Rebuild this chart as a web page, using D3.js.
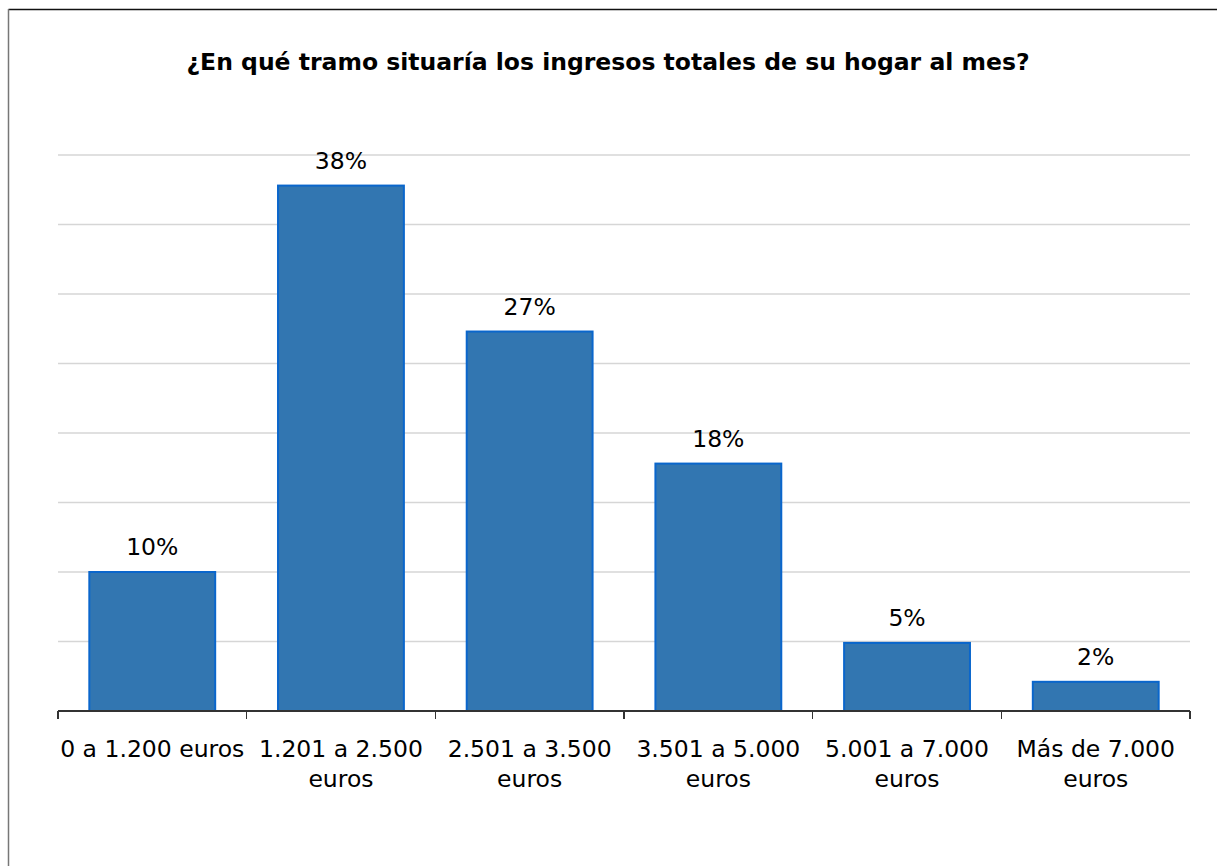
<!DOCTYPE html>
<html lang="es">
	<head>
		<meta charset="utf-8">
		<title>Ingresos del hogar</title>
		<script type="text/javascript" src="https://cdn.jsdelivr.net/npm/d3@7"></script>
		<style type="text/css">
			body { margin: 0; background: #fff; }
			text { font-family: "DejaVu Sans", Verdana, sans-serif; fill: #000; }
			.grid line { stroke: #d6d6d6; stroke-width: 1.3; }
			.axis path, .axis line { stroke: #333; stroke-width: 1.2; shape-rendering: crispEdges; }
		</style>
	</head>
	<body>
		<script type="text/javascript">

			//SVG width and height
			var w = 1217;
			var h = 866;

			// Data
			var categories = ["0 a 1.200 euros", "1.201 a 2.500 euros", "2.501 a 3.500 euros",
			                  "3.501 a 5.000 euros", "5.001 a 7.000 euros", "Más de 7.000 euros"];
			var categoryLines = [
				["0 a 1.200 euros"],
				["1.201 a 2.500", "euros"],
				["2.501 a 3.500", "euros"],
				["3.501 a 5.000", "euros"],
				["5.001 a 7.000", "euros"],
				["Más de 7.000", "euros"]
			];
			var values = [10, 37.8, 27.3, 17.8, 4.9, 2.1];
			var gridTicks = [5, 10, 15, 20, 25, 30, 35, 40];
			var title = "¿En qué tramo situaría los ingresos totales de su hogar al mes?";

			var plotLeft = 58, plotRight = 1190, plotTop = 155, plotBottom = 711;
			var fontSize = "23.5px";

			var xScale = d3.scaleBand()
							.domain(categories)
							.range([plotLeft, plotRight])
							.paddingInner(0.333)
							.paddingOuter(0.166);

			var yScale = d3.scaleLinear()
							.domain([0, 40])
							.range([plotBottom, plotTop]);

			var svg = d3.select("body")
						.append("svg")
						.attr("width", w)
						.attr("height", h);

			// outer frame (only top and left edges visible)
			svg.append("line")
				.attr("x1", 8.5).attr("y1", 9.5).attr("x2", w).attr("y2", 9.5)
				.attr("stroke", "#111").attr("stroke-width", 1.5);
			svg.append("line")
				.attr("x1", 8.5).attr("y1", 9).attr("x2", 8.5).attr("y2", h)
				.attr("stroke", "#777").attr("stroke-width", 1.5);

			// title
			svg.append("text")
				.attr("x", 608)
				.attr("y", 70)
				.attr("text-anchor", "middle")
				.style("font-weight", "bold")
				.style("font-size", fontSize)
				.text(title);

			// gridlines
			svg.append("g")
				.attr("class", "grid")
				.selectAll("line")
				.data(gridTicks)
				.enter()
				.append("line")
				.attr("x1", plotLeft)
				.attr("x2", plotRight)
				.attr("y1", function(d) { return yScale(d); })
				.attr("y2", function(d) { return yScale(d); });

			// bars
			svg.append("g")
				.selectAll("rect")
				.data(values)
				.enter()
				.append("rect")
				.attr("x", function(d, i) { return xScale(categories[i]); })
				.attr("y", function(d) { return yScale(d); })
				.attr("width", xScale.bandwidth())
				.attr("height", function(d) { return plotBottom - yScale(d); })
				.attr("fill", "#3276B1")
				.attr("stroke", "#0A66CC")
				.attr("stroke-width", 2);

			// value labels
			svg.append("g")
				.selectAll("text")
				.data(values)
				.enter()
				.append("text")
				.attr("x", function(d, i) { return xScale(categories[i]) + xScale.bandwidth() / 2; })
				.attr("y", function(d) { return yScale(d) - 17; })
				.attr("text-anchor", "middle")
				.style("font-size", fontSize)
				.text(function(d) { return Math.round(d) + "%"; });

			// x axis
			var xAxis = d3.axisBottom(xScale)
							.tickSize(0)
							.tickFormat("");
			svg.append("g")
				.attr("class", "x axis")
				.attr("transform", "translate(0," + plotBottom + ")")
				.call(xAxis)
				.call(function(g) { g.select(".domain").attr("d", "M" + plotLeft + ",0H" + plotRight); });

			// tick marks at band boundaries
			var bounds = categories.map(function(c) { return xScale(c) - xScale.step() * xScale.paddingInner() / 2; });
			bounds.push(plotRight);
			bounds[0] = plotLeft;
			svg.append("g")
				.attr("class", "axis")
				.selectAll("line")
				.data(bounds)
				.enter()
				.append("line")
				.attr("x1", function(d) { return d; })
				.attr("x2", function(d) { return d; })
				.attr("y1", plotBottom)
				.attr("y2", plotBottom + 8);

			// category labels
			var labels = svg.append("g")
				.selectAll("text")
				.data(categories)
				.enter()
				.append("text")
				.attr("text-anchor", "middle")
				.style("font-size", fontSize)
				.attr("transform", function(d) {
					return "translate(" + (xScale(d) + xScale.bandwidth() / 2) + "," + 757 + ")";
				});
			labels.selectAll("tspan")
				.data(function(d, i) { return categoryLines[i]; })
				.enter()
				.append("tspan")
				.attr("x", 0)
				.attr("y", function(d, j) { return j * 30; })
				.text(function(d) { return d; });

		</script>
	</body>
</html>
